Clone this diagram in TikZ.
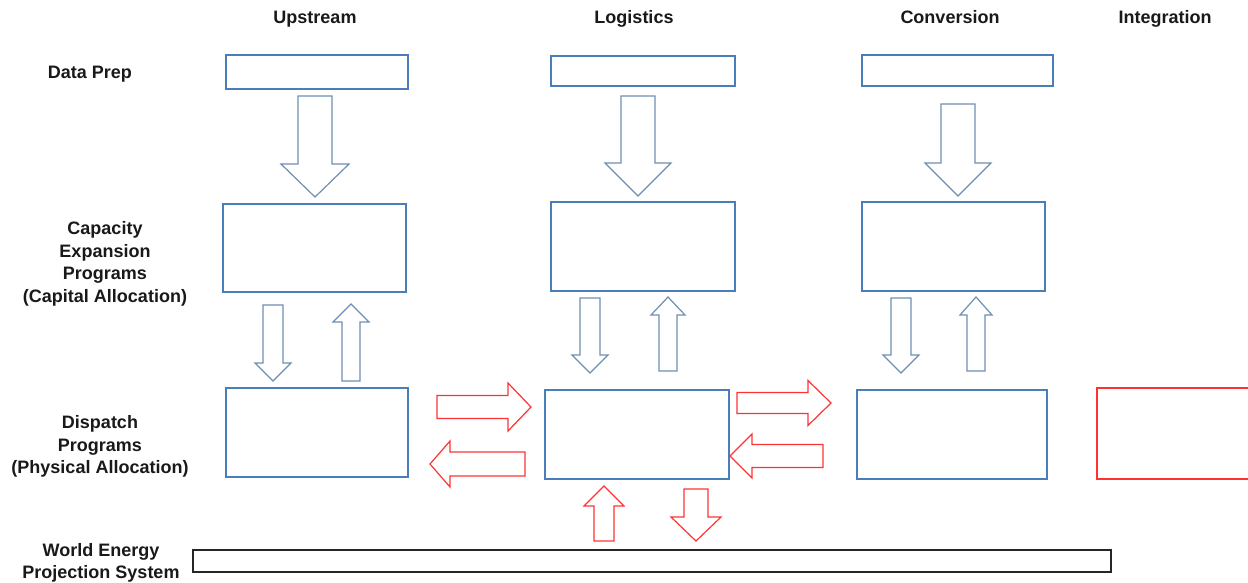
\documentclass[tikz,border=0pt]{standalone}
\usepackage{fontspec}
\setmainfont{Liberation Sans}
\usepackage{tikz}

\definecolor{boxblue}{RGB}{74,126,187}
\definecolor{arrblue}{RGB}{110,142,178}
\definecolor{arrred}{RGB}{255,50,50}
\definecolor{txt}{RGB}{25,25,25}

% block arrows: style, centre, tail, head base, tip, half shaft, half head
\newcommand{\vblock}[7]{\draw[#1] (#2-#6,#3) -- (#2-#6,#4) -- (#2-#7,#4) -- (#2,#5) -- (#2+#7,#4) -- (#2+#6,#4) -- (#2+#6,#3) -- cycle;}
\newcommand{\hblock}[7]{\draw[#1] (#3,#2-#6) -- (#4,#2-#6) -- (#4,#2-#7) -- (#5,#2) -- (#4,#2+#7) -- (#4,#2+#6) -- (#3,#2+#6) -- cycle;}

\tikzset{
  box/.style={draw=boxblue,line width=1.4pt,inner sep=0pt,outer sep=0pt},
  redbox/.style={draw=arrred,line width=1.4pt,inner sep=0pt,outer sep=0pt},
  blackbox/.style={draw=black!85,line width=1.3pt,inner sep=0pt,outer sep=0pt},
  lbl/.style={text=txt,font=\fontsize{18}{22.5}\selectfont\bfseries,align=center,inner sep=0pt},
  barr/.style={draw=arrblue,line width=1.2pt,line join=miter},
  rarr/.style={draw=arrred,line width=1.2pt,line join=miter}
}

\begin{document}
\begin{tikzpicture}[x=1pt,y=-1pt]
\clip (0,0) rectangle (1248,582);

\node[lbl,anchor=base] (hup) at (315,23.5) {Upstream};
\node[lbl,anchor=base] (hlog) at (634,23.5) {Logistics};
\node[lbl,anchor=base] (hconv) at (950,23.5) {Conversion};
\node[lbl,anchor=base] (hint) at (1165,23.5) {Integration};

\node[lbl,anchor=base] (rprep) at (90,78.5) {Data Prep};
\node[lbl] (rcap) at (105,264) {Capacity\\Expansion\\Programs\\(Capital Allocation)};
\node[lbl] (rdisp) at (100,446.5) {Dispatch\\Programs\\(Physical Allocation)};
\node[lbl] (rweps) at (101,563) {World Energy\\Projection System};

% upstream
\node[box,minimum width=182pt,minimum height=34pt] (upprep) at (317,72) {};
\node[box,minimum width=183pt,minimum height=88pt] (upcap) at (314.5,248) {};
\node[box,minimum width=182pt,minimum height=89pt] (updisp) at (317,432.5) {};
% logistics
\node[box,minimum width=184pt,minimum height=30pt] (logprep) at (643,71) {};
\node[box,minimum width=184pt,minimum height=89pt] (logcap) at (643,246.5) {};
\node[box,minimum width=184pt,minimum height=89pt] (logdisp) at (637,434.5) {};
% conversion
\node[box,minimum width=191pt,minimum height=31pt] (convprep) at (957.5,70.5) {};
\node[box,minimum width=183pt,minimum height=89pt] (convcap) at (953.5,246.5) {};
\node[box,minimum width=190pt,minimum height=89pt] (convdisp) at (952,434.5) {};
% integration
\node[redbox,minimum width=166pt,minimum height=91pt] (intdisp) at (1180,433.5) {};

\node[blackbox,minimum width=918pt,minimum height=22pt] (weps) at (652,561) {};

% data prep -> capacity
\vblock{barr}{315}{96}{164}{197}{17}{34}
\vblock{barr}{638}{96}{163}{196}{17}{33}
\vblock{barr}{958}{104}{163}{196}{17}{33}

% capacity <-> dispatch
\vblock{barr}{273}{305}{363}{381}{10}{18}
\vblock{barr}{351}{381}{322}{304}{9}{18}
\vblock{barr}{590}{298}{355}{373}{10}{18}
\vblock{barr}{668}{371}{315}{297}{9}{17}
\vblock{barr}{901}{298}{355}{373}{10}{18}
\vblock{barr}{976}{371}{315}{297}{9}{16}

% dispatch links
\hblock{rarr}{407}{437}{508}{531}{11.5}{24}
\hblock{rarr}{464}{525}{450}{430}{12}{23}
\hblock{rarr}{403}{737}{808}{831}{10.5}{22.5}
\hblock{rarr}{456}{823}{752}{730}{11.5}{22}
\vblock{rarr}{604}{541}{506}{486}{10}{20}
\vblock{rarr}{696}{489}{517}{541}{12}{25}

\end{tikzpicture}
\end{document}
